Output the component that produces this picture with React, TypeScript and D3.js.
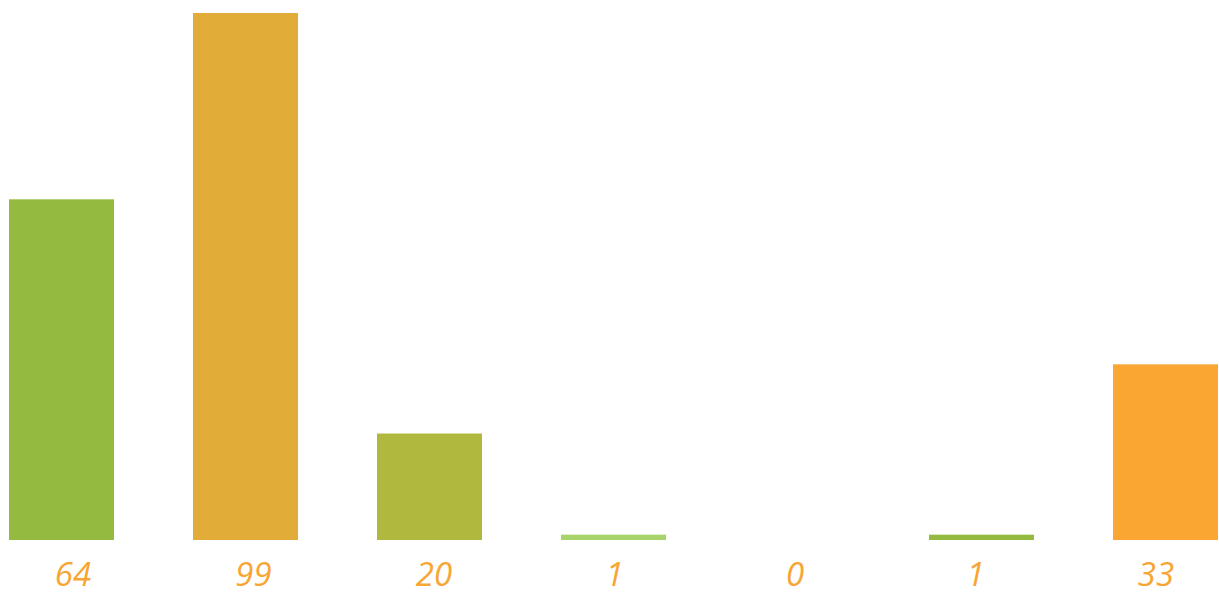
import React from 'react'
import { scaleBand, scaleLinear, scalePoint } from 'd3'

const WIDTH = 1219
const HEIGHT = 610

const categories = ['a', 'b', 'c', 'd', 'e', 'f', 'g']
const values = [64, 99, 20, 1, 0, 1, 33]
const colors = ['#94bb40', '#e1ac38', '#b0b83e', '#a8d26a', '#94bb40', '#94bb40', '#f9a633']
const labels = ['64', '99', '20', '1', '0', '1', '33']

const App = () => {
  const xScale = scaleBand<string>()
    .domain(categories)
    .range([9, 1218])
    .paddingInner(0.4293)
    .paddingOuter(0)
  const labelScale = scalePoint<string>().domain(categories).range([73, 1156])
  const yScale = scaleLinear().domain([0, 99]).range([540, 13])

  return (
    <svg
      width={WIDTH}
      height={HEIGHT}
      viewBox={`0 0 ${WIDTH} ${HEIGHT}`}
      style={{ position: 'absolute', left: 0, top: 0, background: 'white' }}
    >
      <g data-bars>
        {categories.map((c, i) => (
          <rect
            key={c}
            x={xScale(c)}
            y={yScale(values[i])}
            width={xScale.bandwidth()}
            height={yScale(0) - yScale(values[i])}
            fill={colors[i]}
          />
        ))}
      </g>
      <g data-labels>
        {categories.map((c, i) => (
          <text
            key={c}
            x={labelScale(c)}
            y={586}
            textAnchor="middle"
            fill="#f7a533"
            style={{ fontFamily: '"Open Sans", sans-serif', fontStyle: 'italic', fontSize: 33 }}
          >
            {labels[i]}
          </text>
        ))}
      </g>
    </svg>
  )
}

export default App
